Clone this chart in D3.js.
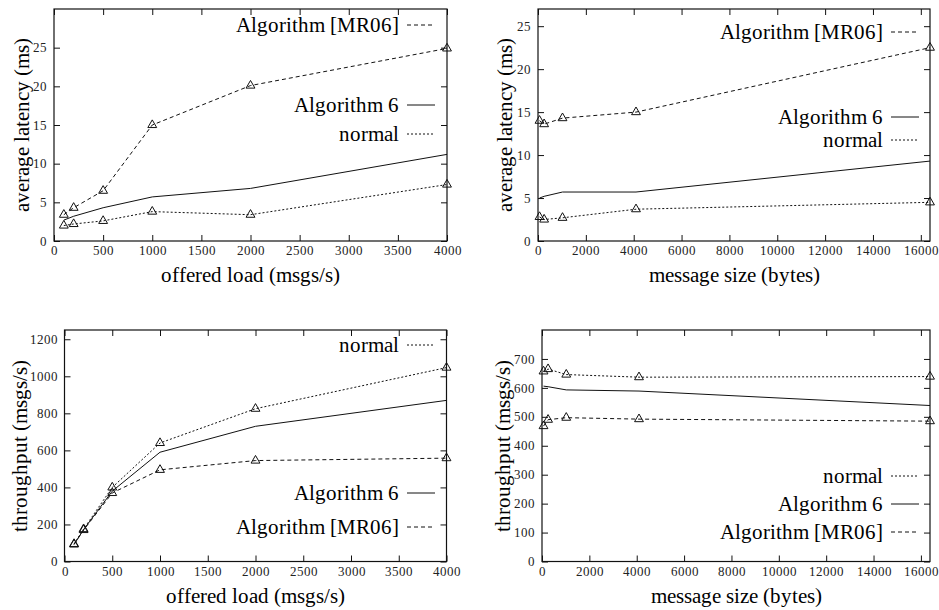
<!DOCTYPE html>
<html>
<head>
<meta charset="utf-8">
<script src="https://cdn.jsdelivr.net/npm/d3@7"></script>
<style>
  @font-face {
    font-family: "PlotSerif";
    src: local("Liberation Serif"), local("LiberationSerif"), local("LiberationSerif-Regular"), local("Liberation Serif Regular");
  }
  body { margin: 0; background: #fff; }
</style>
</head>
<body>
<div id="chart"></div>
<script>
// x values
var loadX = [100, 200, 500, 1000, 2000, 4000];
var sizeX = [64, 256, 1024, 4096, 16384];

// latency vs offered load (ms)
var latLoadMR06 = [3.4, 4.3, 6.5, 15.0, 20.1, 24.9];
var latLoadAlg6 = [2.7, 3.2, 4.3, 5.7, 6.8, 11.2];
var latLoadNormal = [2.0, 2.2, 2.6, 3.8, 3.4, 7.3];

// latency vs message size (ms)
var latSizeMR06 = [14.0, 13.6, 14.3, 15.0, 22.5];
var latSizeAlg6 = [5.0, 5.2, 5.7, 5.7, 9.3];
var latSizeNormal = [2.8, 2.5, 2.7, 3.7, 4.5];

// throughput vs offered load (msgs/s)
var thrLoadNormal = [95, 175, 400, 640, 825, 1047];
var thrLoadAlg6 = [92, 172, 380, 590, 730, 870];
var thrLoadMR06 = [92, 170, 370, 495, 545, 558];

// throughput vs message size (msgs/s)
var thrSizeNormal = [657, 665, 646, 637, 639];
var thrSizeAlg6 = [606, 604, 593, 589, 539];
var thrSizeMR06 = [468, 490, 497, 492, 485];

// tick labels
var loadTicks = [0, 500, 1000, 1500, 2000, 2500, 3000, 3500, 4000];
var sizeTicks = [0, 2000, 4000, 6000, 8000, 10000, 12000, 14000, 16000];
var latTicks = [0, 5, 10, 15, 20, 25];
var thrLoadTicks = [0, 200, 400, 600, 800, 1000, 1200];
var thrSizeTicks = [0, 100, 200, 300, 400, 500, 600, 700];

var font = "PlotSerif, 'Liberation Serif', 'Times New Roman', Tinos, serif";

var lineStyles = {
  mr06: { dash: "4,3", marker: true, label: "Algorithm [MR06]" },
  alg6: { dash: null, marker: false, label: "Algorithm 6" },
  normal: { dash: "2,2", marker: true, label: "normal" }
};

var svg = d3.select("#chart")
  .append("svg")
  .attr("width", 939)
  .attr("height", 610)
  .style("font-family", font);

var panels = [
  {
    box: { left: 54, right: 447, top: 9, bottom: 241 },
    x: loadX, xMax: 4000, xTicks: loadTicks, yMax: 30, yTicks: latTicks,
    xLabel: "offered load (msgs/s)", yLabel: "average latency (ms)", yLabelX: 22,
    series: [["mr06", latLoadMR06], ["alg6", latLoadAlg6], ["normal", latLoadNormal]],
    legend: { right: 399, ys: { mr06: 25, alg6: 105, normal: 134 } }
  },
  {
    box: { left: 538, right: 930, top: 9, bottom: 241 },
    x: sizeX, xMax: 16384, xTicks: sizeTicks, yMax: 27, yTicks: latTicks,
    xLabel: "message size (bytes)", yLabel: "average latency (ms)", yLabelX: 505,
    series: [["mr06", latSizeMR06], ["alg6", latSizeAlg6], ["normal", latSizeNormal]],
    legend: { right: 883, ys: { mr06: 32, alg6: 117, normal: 140 } }
  },
  {
    box: { left: 64.5, right: 446.5, top: 330, bottom: 561.5 },
    x: loadX, xMax: 4000, xTicks: loadTicks, yMax: 1250, yTicks: thrLoadTicks,
    xLabel: "offered load (msgs/s)", yLabel: "throughput (msgs/s)", yLabelX: 20,
    series: [["normal", thrLoadNormal], ["alg6", thrLoadAlg6], ["mr06", thrLoadMR06]],
    legend: { right: 399, ys: { normal: 345, alg6: 493, mr06: 527 } }
  },
  {
    box: { left: 542, right: 930, top: 330, bottom: 561.5 },
    x: sizeX, xMax: 16384, xTicks: sizeTicks, yMax: 800, yTicks: thrSizeTicks,
    xLabel: "message size (bytes)", yLabel: "throughput (msgs/s)", yLabelX: 503,
    series: [["normal", thrSizeNormal], ["alg6", thrSizeAlg6], ["mr06", thrSizeMR06]],
    legend: { right: 883, ys: { normal: 476, alg6: 504, mr06: 532 } }
  }
];

panels.forEach(function (p) {
  var b = p.box;
  var x = d3.scaleLinear().domain([0, p.xMax]).range([b.left, b.right]);
  var y = d3.scaleLinear().domain([0, p.yMax]).range([b.bottom, b.top]);
  var g = svg.append("g");
  var fmt = d3.format("d");

  // axes with inward ticks, mirrored on top/right
  g.append("g")
    .attr("transform", "translate(0," + b.bottom + ")")
    .call(d3.axisBottom(x).tickValues(p.xTicks).tickFormat(fmt).tickSizeInner(-6).tickSizeOuter(0).tickPadding(5));
  g.append("g")
    .attr("transform", "translate(0," + b.top + ")")
    .call(d3.axisTop(x).tickValues(p.xTicks).tickSizeInner(-6).tickSizeOuter(0).tickFormat(""));
  g.append("g")
    .attr("transform", "translate(" + b.left + ",0)")
    .call(d3.axisLeft(y).tickValues(p.yTicks).tickFormat(fmt).tickSizeInner(-6).tickSizeOuter(0).tickPadding(7));
  g.append("g")
    .attr("transform", "translate(" + b.right + ",0)")
    .call(d3.axisRight(y).tickValues(p.yTicks).tickSizeInner(-6).tickSizeOuter(0).tickFormat(""));
  g.selectAll(".domain").remove();
  g.selectAll(".tick line").attr("stroke", "#111");
  g.selectAll(".tick text")
    .style("font-family", font)
    .style("font-size", "13px")
    .attr("fill", "#222");

  g.append("rect")
    .attr("x", b.left).attr("y", b.top)
    .attr("width", b.right - b.left).attr("height", b.bottom - b.top)
    .attr("fill", "none").attr("stroke", "#111").attr("stroke-width", 1.2);

  // axis labels
  g.append("text")
    .attr("x", (b.left + b.right) / 2)
    .attr("y", b.bottom + 41)
    .attr("text-anchor", "middle")
    .style("font-family", font)
    .style("font-size", "21px")
    .text(p.xLabel);
  g.append("text")
    .attr("transform", "translate(" + p.yLabelX + "," + ((b.top + b.bottom) / 2) + ") rotate(-90)")
    .attr("text-anchor", "middle")
    .attr("dy", "0.35em")
    .style("font-family", font)
    .style("font-size", "21px")
    .text(p.yLabel);

  // series
  p.series.forEach(function (s) {
    var st = lineStyles[s[0]];
    var pts = p.x.map(function (d, i) { return [d, s[1][i]]; });
    var line = d3.line().x(function (d) { return x(d[0]); }).y(function (d) { return y(d[1]); });
    g.append("path")
      .datum(pts)
      .attr("d", line)
      .attr("fill", "none")
      .attr("stroke", "#111")
      .attr("stroke-width", 1)
      .attr("stroke-dasharray", st.dash);
    if (st.marker) {
      g.selectAll(null)
        .data(pts)
        .enter().append("path")
        .attr("transform", function (d) { return "translate(" + x(d[0]) + "," + y(d[1]) + ")"; })
        .attr("d", d3.symbol().type(d3.symbolTriangle).size(34))
        .attr("fill", "none")
        .attr("stroke", "#111")
        .attr("stroke-width", 1);
    }

    // legend entry
    var ly = p.legend.ys[s[0]];
    g.append("text")
      .attr("x", p.legend.right)
      .attr("y", ly)
      .attr("dy", "0.35em")
      .attr("text-anchor", "end")
      .style("font-family", font)
      .style("font-size", "21px")
      .text(st.label);
    g.append("line")
      .attr("x1", p.legend.right + 8).attr("x2", p.legend.right + 36)
      .attr("y1", ly).attr("y2", ly)
      .attr("stroke", "#111")
      .attr("stroke-width", 1)
      .attr("stroke-dasharray", st.dash);
  });
});
</script>
</body>
</html>
